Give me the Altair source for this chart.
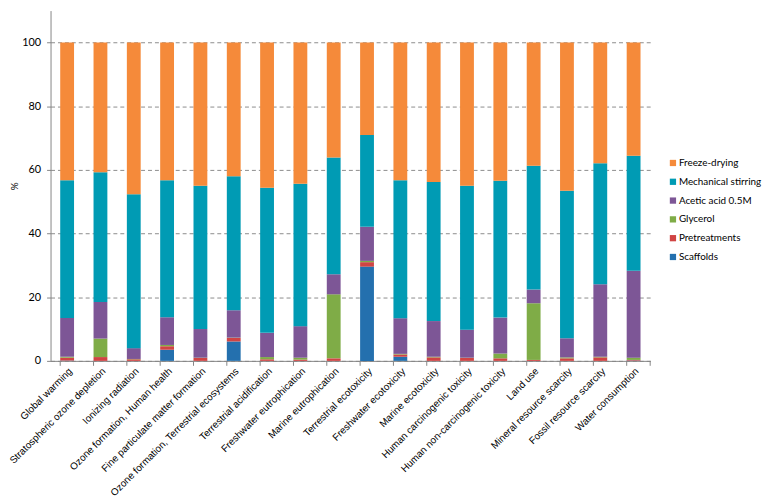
import altair as alt
import pandas as pd

categories = [
    "Global warming", "Stratospheric ozone depletion", "Ionizing radiation",
    "Ozone formation, Human health", "Fine particulate matter formation",
    "Ozone formation, Terrestrial ecosystems", "Terrestrial acidification",
    "Freshwater eutrophication", "Marine eutrophication", "Terrestrial ecotoxicity",
    "Freshwater ecotoxicity", "Marine ecotoxicity", "Human carcinogenic toxicity",
    "Human non-carcinogenic toxicity", "Land use", "Mineral resource scarcity",
    "Fossil resource scarcity", "Water consumption",
]

series = ["Freeze-drying", "Mechanical stirring", "Acetic acid 0.5M",
          "Glycerol", "Pretreatments", "Scaffolds"]
colors = ["#F58A3A", "#009BB4", "#7D5696", "#7FAC47", "#D04444", "#2470AE"]

scaffolds = [0.1, 0, 0, 3.5, 0, 6.1, 0, 0, 0, 29.6, 1.3, 0, 0, 0, 0, 0, 0, 0.1]
pretreatments = [0.9, 1.2, 0.5, 1.1, 0.9, 1.1, 0.5, 0.4, 0.8, 1.4, 0.7, 1.1, 0.9, 0.8, 0.3, 0.8, 1.1, 0.2]
glycerol = [0.3, 5.8, 0.1, 0.4, 0.1, 0.1, 0.7, 0.6, 20.1, 0.4, 0.2, 0.2, 0.1, 1.5, 17.8, 0.3, 0.2, 0.7]
acetic = [12.2, 11.5, 3.4, 8.7, 9.0, 8.6, 7.6, 9.9, 6.3, 10.7, 11.2, 11.2, 8.8, 11.3, 4.3, 6.0, 22.8, 27.3]
mechanical = [43.2, 40.7, 48.3, 43.0, 45.0, 42.1, 45.6, 44.7, 36.7, 28.8, 43.3, 43.7, 45.2, 43.0, 38.9, 46.3, 38.0, 36.1]
freeze = [43.3, 40.8, 47.7, 43.3, 45.0, 42.0, 45.6, 44.4, 36.1, 29.1, 43.3, 43.8, 45.0, 43.4, 38.7, 46.6, 37.9, 35.6]

y_ticks = [0, 20, 40, 60, 80, 100]

values_by_series = {
    "Scaffolds": scaffolds,
    "Pretreatments": pretreatments,
    "Glycerol": glycerol,
    "Acetic acid 0.5M": acetic,
    "Mechanical stirring": mechanical,
    "Freeze-drying": freeze,
}
stack_rank = {s: i for i, s in enumerate(["Scaffolds", "Pretreatments", "Glycerol",
                                          "Acetic acid 0.5M", "Mechanical stirring",
                                          "Freeze-drying"])}

rows = []
for s, vals in values_by_series.items():
    for c, v in zip(categories, vals):
        rows.append({"category": c, "series": s, "value": v, "rank": stack_rank[s]})
df = pd.DataFrame(rows)
cat_df = pd.DataFrame({"category": categories})

W, H = 606, 354

x_enc = alt.X("category:N", sort=categories,
              scale=alt.Scale(paddingInner=0.585, paddingOuter=0.29),
              axis=alt.Axis(title=None, labelAngle=-45, labelFont="Liberation Sans",
                            labelFontSize=10, labelColor="#000000", ticks=False,
                            domainColor="#868686", labelPadding=5, labelLimit=300))

bars = alt.Chart(df).mark_bar().encode(
    x=x_enc,
    y=alt.Y("value:Q", stack="zero",
            scale=alt.Scale(domain=[0, 110], nice=False),
            axis=alt.Axis(title="%", values=y_ticks, titleFont="Lato", titleFontSize=10,
                          titleFontWeight="normal", titleColor="#000000",
                          labelFont="Lato", labelFontSize=11, labelColor="#000000",
                          labelPadding=6, tickSize=4, tickColor="#868686",
                          domainColor="#868686", grid=True, gridColor="#8C8C8C",
                          gridDash=[4, 3], titlePadding=2)),
    color=alt.Color("series:N", scale=alt.Scale(domain=series, range=colors),
                    legend=alt.Legend(title=None, orient="none", legendX=624, legendY=149,
                                      symbolType="square", symbolSize=40,
                                      symbolStrokeWidth=0, labelFont="Lato",
                                      labelFontSize=10, labelColor="#000000",
                                      rowPadding=9, padding=0, labelOffset=1)),
    order=alt.Order("rank:Q", sort="ascending"),
)

ticks = alt.Chart(cat_df).mark_rule(color="#868686").encode(
    x=alt.X("category:N", sort=categories, bandPosition=0),
    y=alt.value(H),
    y2=alt.value(H + 5),
)
end_tick = alt.Chart(cat_df.head(1)).mark_rule(color="#868686").encode(
    x=alt.value(W), y=alt.value(H), y2=alt.value(H + 5)
)

chart = alt.layer(bars, ticks, end_tick).properties(
    width=W, height=H,
    autosize=alt.AutoSizeParams(type="none"),
    padding={"left": 43, "top": 0, "right": 113, "bottom": 140},
).configure_view(stroke=None).configure_axis(gridWidth=1)

chart.save("out.html", embed_options={"renderer": "svg", "actions": False})
